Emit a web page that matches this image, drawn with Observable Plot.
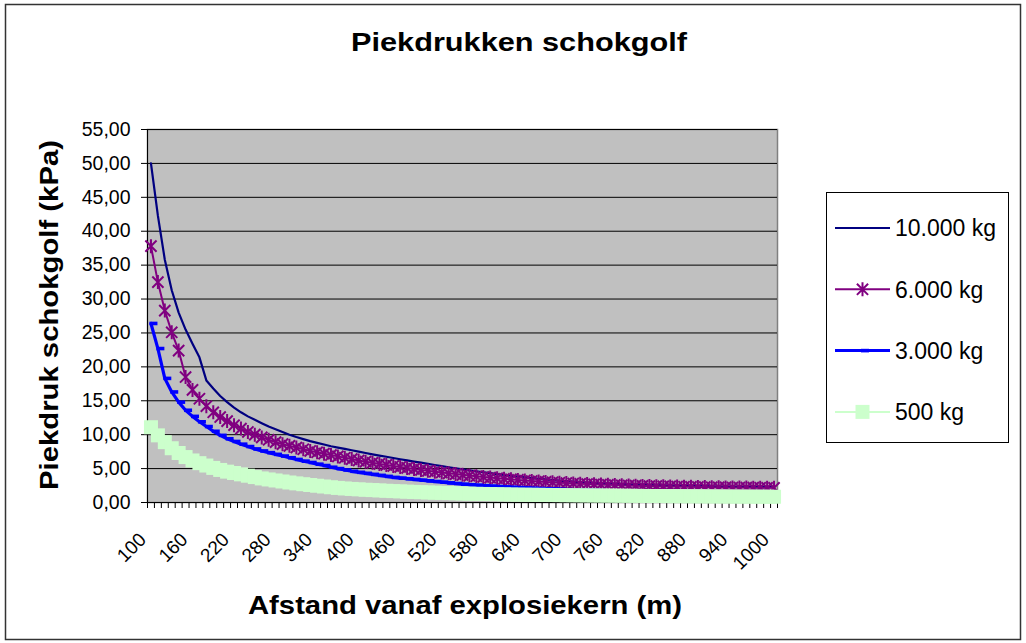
<!DOCTYPE html>
<html><head><meta charset="utf-8">
<script src="https://cdn.jsdelivr.net/npm/d3@7"></script>
<script src="https://cdn.jsdelivr.net/npm/@observablehq/plot@0.6"></script>
<style>body{margin:0;background:#fff}svg{display:block}</style>
</head><body><div id="chart"></div>
<script>
const distance = [100,110,120,130,140,150,160,170,180,190,200,210,220,230,240,250,260,270,280,290,300,310,320,330,340,350,360,370,380,390,400,410,420,430,440,450,460,470,480,490,500,510,520,530,540,550,560,570,580,590,600,610,620,630,640,650,660,670,680,690,700,710,720,730,740,750,760,770,780,790,800,810,820,830,840,850,860,870,880,890,900,910,920,930,940,950,960,970,980,990,1000];
const p10000 = [50.0,42.3,35.8,31.3,28.0,25.5,23.4,21.4,18.0,16.8,15.7,14.8,14.0,13.3,12.7,12.2,11.7,11.2,10.8,10.4,10.0,9.65,9.35,9.05,8.8,8.55,8.3,8.1,7.9,7.7,7.5,7.3,7.1,6.92,6.74,6.56,6.38,6.2,6.03,5.87,5.7,5.53,5.36,5.2,5.04,4.89,4.74,4.6,4.46,4.32,4.19,4.06,3.94,3.82,3.71,3.6,3.5,3.4,3.31,3.23,3.15,3.08,3.01,2.95,2.89,2.84,2.79,2.75,2.71,2.67,2.64,2.61,2.58,2.55,2.52,2.5,2.48,2.46,2.44,2.42,2.4,2.38,2.36,2.34,2.32,2.31,2.3,2.29,2.28,2.27,2.26];
const p6000 = [37.8,32.5,28.3,25.1,22.4,18.5,16.6,15.3,14.2,13.3,12.6,12.0,11.4,10.9,10.4,10.0,9.6,9.25,8.9,8.6,8.35,8.1,7.85,7.6,7.4,7.2,7.0,6.8,6.6,6.4,6.2,6.02,5.85,5.69,5.54,5.39,5.24,5.1,4.95,4.81,4.67,4.54,4.42,4.3,4.19,4.08,3.97,3.87,3.77,3.67,3.58,3.49,3.41,3.33,3.25,3.18,3.11,3.04,2.98,2.92,2.86,2.81,2.76,2.72,2.68,2.64,2.6,2.57,2.54,2.51,2.48,2.45,2.43,2.41,2.39,2.37,2.35,2.33,2.31,2.29,2.27,2.25,2.24,2.23,2.22,2.21,2.2,2.19,2.18,2.17,2.16];
const p3000 = [26.4,22.7,18.3,16.3,14.8,13.6,12.7,11.9,11.2,10.5,9.9,9.4,9.0,8.6,8.25,7.9,7.6,7.35,7.1,6.85,6.6,6.35,6.1,5.9,5.65,5.45,5.2,5.0,4.8,4.6,4.45,4.3,4.15,4.0,3.85,3.7,3.6,3.5,3.4,3.3,3.2,3.1,3.0,2.9,2.8,2.7,2.62,2.55,2.48,2.42,2.36,2.3,2.25,2.2,2.15,2.1,2.06,2.02,1.98,1.94,1.9,1.87,1.84,1.81,1.78,1.75,1.72,1.7,1.68,1.66,1.64,1.62,1.6,1.58,1.56,1.54,1.52,1.5,1.48,1.46,1.45,1.44,1.43,1.42,1.41,1.4,1.39,1.38,1.37,1.36,1.35];
const p500 = [11.1,9.9,8.9,8.0,7.3,6.7,6.2,5.8,5.45,5.1,4.8,4.55,4.35,4.15,3.95,3.75,3.55,3.4,3.25,3.1,2.95,2.82,2.7,2.58,2.47,2.36,2.25,2.15,2.07,2.0,1.94,1.88,1.83,1.78,1.73,1.68,1.64,1.6,1.56,1.52,1.48,1.45,1.42,1.39,1.36,1.33,1.3,1.28,1.26,1.24,1.22,1.2,1.18,1.16,1.15,1.14,1.13,1.12,1.1,1.09,1.08,1.07,1.06,1.05,1.04,1.03,1.02,1.01,1.0,0.99,0.98,0.97,0.96,0.955,0.95,0.94,0.935,0.93,0.92,0.915,0.91,0.9,0.895,0.89,0.88,0.875,0.87,0.865,0.86,0.855,0.85];
const seriesNames = ["10.000 kg","6.000 kg","3.000 kg","500 kg"];
const seriesColors = ["#000080","#800080","#0000FF","#CCFFCC"];
const yTicks = [0,5,10,15,20,25,30,35,40,45,50,55];
const xLabels = [100,160,220,280,340,400,460,520,580,640,700,760,820,880,940,1000];
const chartTitle = "Piekdrukken schokgolf";
const yTitle = "Piekdruk schokgolf (kPa)";
const xTitle = "Afstand vanaf explosiekern (m)";

const values = [p10000, p6000, p3000, p500];
const rows = values.flatMap((arr, s) => distance.map((d, i) => ({d, v: arr[i], s: seriesNames[s]})));
const bySeries = name => rows.filter(r => r.s === name);
const edges = [...distance.map(d => d - 5), distance[distance.length - 1] + 5];

const asterisk = {draw(ctx) {const r = 7, q = 5.6; ctx.moveTo(0, -r); ctx.lineTo(0, r); ctx.moveTo(-q, -q); ctx.lineTo(q, q); ctx.moveTo(-q, q); ctx.lineTo(q, -q);}};
const dash = {draw(ctx) {ctx.rect(-1.5, -1.8, 8, 3.6);}};
const square = {draw(ctx) {ctx.rect(-7, -7, 14, 14);}};

const W = 1026, H = 643;
const font = "'Liberation Sans', Arial, sans-serif";
const svg = Plot.plot({
  width: W, height: H,
  marginLeft: 147, marginRight: 249, marginTop: 129, marginBottom: 141,
  style: {fontFamily: font, background: "transparent", overflow: "visible", color: "#000"},
  x: {domain: [edges[0], edges[edges.length - 1]], axis: null},
  y: {domain: [0, 55], axis: null},
  marks: [
    Plot.frame({fill: "#C0C0C0", stroke: "#808080", strokeWidth: 1.5}),
    Plot.gridY(yTicks, {stroke: "#000", strokeOpacity: 1, strokeWidth: 1}),
    Plot.ruleX([edges[0]], {stroke: "#000"}),
    Plot.ruleY([0], {stroke: "#000"}),
    Plot.axisY(yTicks, {tickSize: 6, tickPadding: 11, fontSize: 19.5, label: null, tickFormat: d => d.toFixed(2).replace(".", ",")}),
    Plot.axisX(edges, {tickSize: 6, label: null, tickFormat: () => ""}),
    Plot.axisX(xLabels, {tickSize: 0, tickPadding: 34, tickRotate: -45, fontSize: 19, label: null, dx: -8, tickFormat: d => String(d)}),
    Plot.line(bySeries(seriesNames[0]), {x: "d", y: "v", stroke: seriesColors[0], strokeWidth: 2.2}),
    Plot.line(bySeries(seriesNames[1]), {x: "d", y: "v", stroke: seriesColors[1], strokeWidth: 2}),
    Plot.dot(bySeries(seriesNames[1]), {x: "d", y: "v", symbol: asterisk, stroke: seriesColors[1], strokeWidth: 2, fill: "none"}),
    Plot.line(bySeries(seriesNames[2]), {x: "d", y: "v", stroke: seriesColors[2], strokeWidth: 3.2}),
    Plot.dot(bySeries(seriesNames[2]), {x: "d", y: "v", symbol: dash, fill: seriesColors[2], stroke: "none"}),
    Plot.line(bySeries(seriesNames[3]), {x: "d", y: "v", stroke: seriesColors[3], strokeWidth: 2}),
    Plot.dot(bySeries(seriesNames[3]), {x: "d", y: "v", symbol: square, fill: seriesColors[3], stroke: "none"})
  ]
});
document.getElementById("chart").appendChild(svg);

const s = d3.select(svg);
s.insert("rect", ":first-child").attr("x", 5.5).attr("y", 4.5).attr("width", 1015).attr("height", 635)
  .attr("fill", "#fff").attr("stroke", "#333").attr("stroke-width", 1.5);
const addText = (str, attrs) => {
  const t = s.append("text").text(str).attr("font-family", font).attr("fill", "#000");
  Object.entries(attrs).forEach(([k, v]) => t.attr(k, v));
  return t;
};
addText(chartTitle, {x: 519, y: 51, "text-anchor": "middle", "font-weight": "bold", "font-size": 26,
  textLength: 336, lengthAdjust: "spacingAndGlyphs"});
addText(yTitle, {transform: "translate(49,315) rotate(-90)", "text-anchor": "middle", "dominant-baseline": "central",
  "font-weight": "bold", "font-size": 26, textLength: 350, lengthAdjust: "spacingAndGlyphs"});
addText(xTitle, {x: 465, y: 614, "text-anchor": "middle", "font-weight": "bold", "font-size": 26,
  textLength: 434, lengthAdjust: "spacingAndGlyphs"});

const lg = s.append("g");
lg.append("rect").attr("x", 826.5).attr("y", 192.5).attr("width", 182).attr("height", 250)
  .attr("fill", "#fff").attr("stroke", "#000").attr("stroke-width", 1);
const syms = [null, asterisk, dash, square];
const lw = [2.2, 2, 3, 2];
seriesNames.forEach((name, i) => {
  const y = 228 + i * 61.3;
  lg.append("line").attr("x1", 835).attr("x2", 890).attr("y1", y).attr("y2", y)
    .attr("stroke", seriesColors[i]).attr("stroke-width", lw[i]);
  if (syms[i]) {
    const p = lg.append("path").attr("d", d3.symbol().type(syms[i])()).attr("transform", `translate(862.5,${y})`);
    if (i === 1) p.attr("fill", "none").attr("stroke", seriesColors[i]).attr("stroke-width", 2);
    else p.attr("fill", seriesColors[i]);
  }
  lg.append("text").text(name).attr("x", 895).attr("y", y).attr("dy", "0.36em")
    .attr("text-anchor", "start").attr("font-family", font).attr("font-size", 23).attr("fill", "#000");
});
</script></body></html>
